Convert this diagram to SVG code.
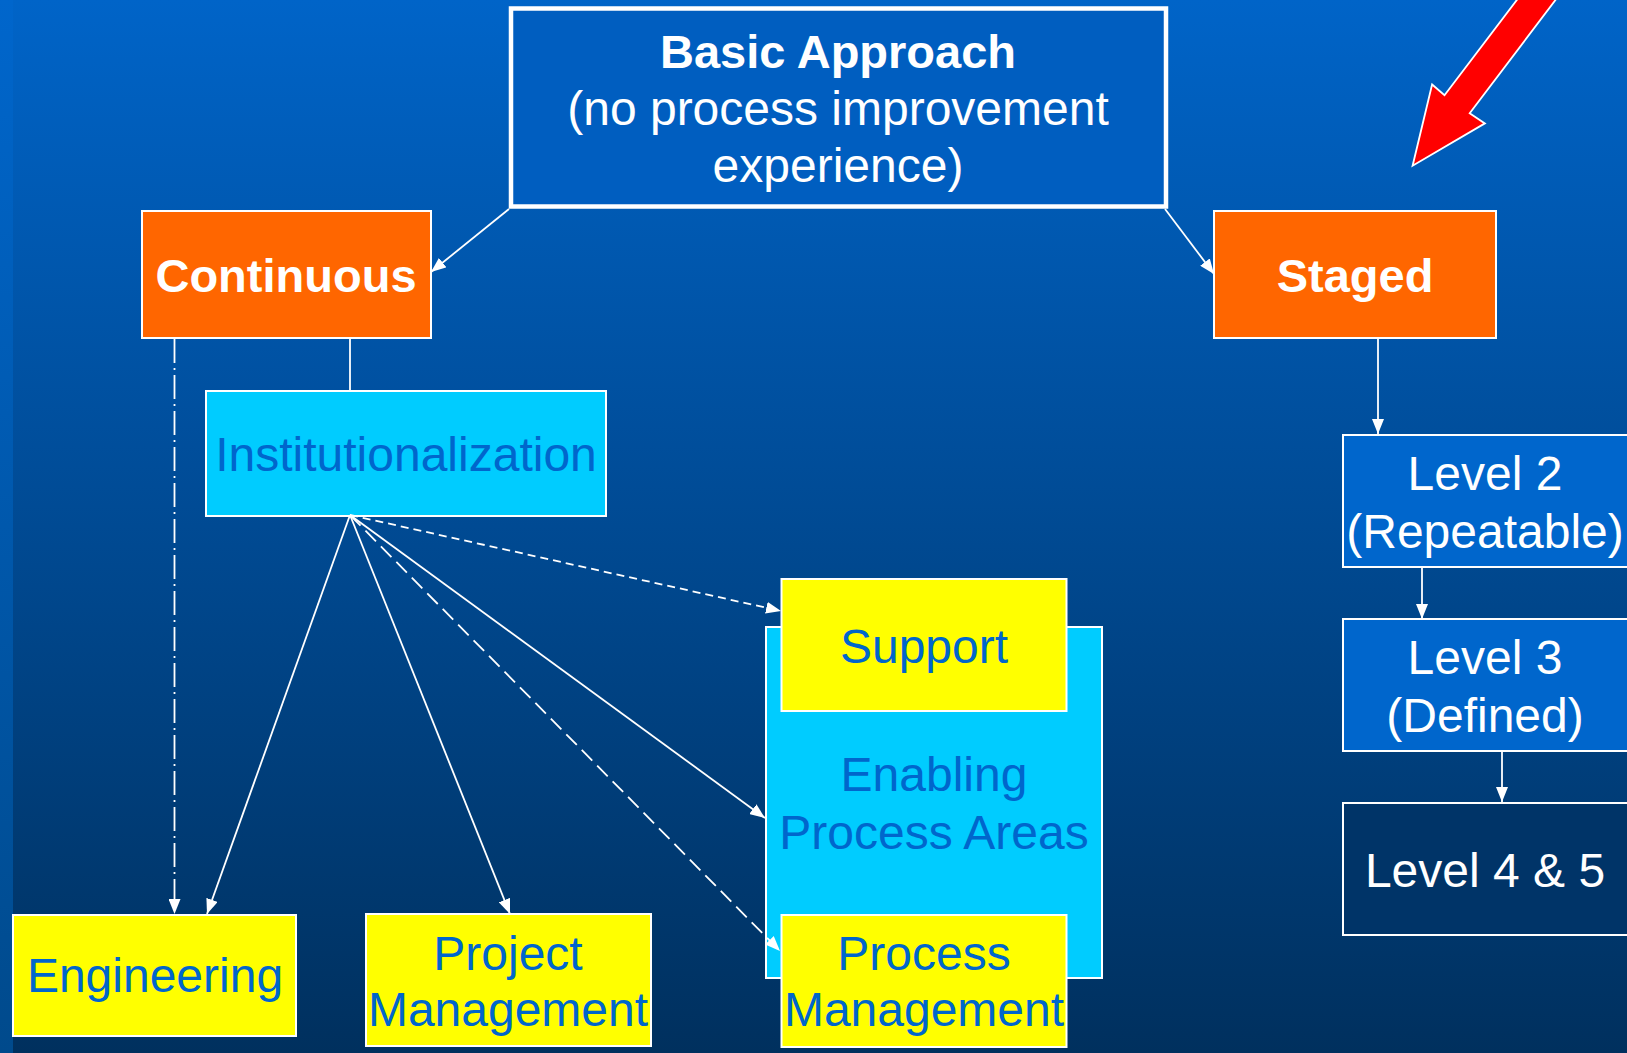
<svg xmlns="http://www.w3.org/2000/svg" width="1627" height="1053" viewBox="0 0 1627 1053">
<defs>
<linearGradient id="bg" x1="0" y1="0" x2="0" y2="1">
<stop offset="0" stop-color="#0064C8"/>
<stop offset="1" stop-color="#00305E"/>
</linearGradient>
<linearGradient id="strip" x1="0" y1="0" x2="0" y2="1">
<stop offset="0" stop-color="#0066CC"/>
<stop offset="1" stop-color="#004A8C"/>
</linearGradient>
<marker id="ah" markerUnits="userSpaceOnUse" markerWidth="16" markerHeight="12" refX="15" refY="6" orient="auto">
<path d="M0,0 L15,6 L0,12 z" fill="#FFFFFF"/>
</marker>
<style>
.t{font-family:"Liberation Sans",Arial,sans-serif;font-size:48px;text-anchor:middle}
.w{fill:#FFFFFF}
.b{fill:#0066CC}
.bold{font-weight:bold;font-size:47px}
.box{stroke:#FFFFFF;stroke-width:2}
.org{fill:#FF6600}
.yel{fill:#FFFF00}
.cyan{fill:#00CCFF}
.lvl{fill:#0066CC}
.c{stroke:#FFFFFF;stroke-width:1.8;fill:none}
</style>
</defs>
<rect x="0" y="0" width="1627" height="1053" fill="url(#bg)"/>
<rect x="0" y="0" width="13" height="1053" fill="url(#strip)"/>

<g id="basic">
<rect x="511" y="8.5" width="655" height="198" fill="#005EC0" stroke="#FFFFFF" stroke-width="4.5"/>
<text class="t w bold" x="838" y="68">Basic Approach</text>
<text class="t w" x="838" y="125">(no process improvement</text>
<text class="t w" x="838" y="182">experience)</text>
</g>
<g id="continuous">
<rect class="box org" x="142" y="211" width="289" height="127"/>
<text class="t w bold" x="286" y="292">Continuous</text>
</g>
<g id="staged">
<rect class="box org" x="1214" y="211" width="282" height="127"/>
<text class="t w bold" x="1355" y="292">Staged</text>
</g>
<g id="institutionalization">
<rect class="box cyan" x="206" y="391" width="400" height="125"/>
<text class="t b" x="406" y="471">Institutionalization</text>
</g>
<g id="enabling">
<rect class="box cyan" x="766" y="627" width="336" height="351"/>
<text class="t b" x="934" y="791">Enabling</text>
<text class="t b" x="934" y="849">Process Areas</text>
</g>
<g id="support">
<rect class="box yel" x="781.5" y="579" width="285" height="132"/>
<text class="t b" x="924" y="663">Support</text>
</g>
<g id="process-management">
<rect class="box yel" x="781.5" y="915" width="285" height="132"/>
<text class="t b" x="924" y="970">Process</text>
<text class="t b" x="924" y="1026">Management</text>
</g>
<g id="engineering">
<rect class="box yel" x="13" y="915" width="283" height="121"/>
<text class="t b" x="155" y="992">Engineering</text>
</g>
<g id="project-management">
<rect class="box yel" x="366" y="914" width="285" height="132"/>
<text class="t b" x="508" y="970">Project</text>
<text class="t b" x="508" y="1026">Management</text>
</g>
<g id="level2">
<rect class="box lvl" x="1343" y="435" width="290" height="132"/>
<text class="t w" x="1485" y="490">Level 2</text>
<text class="t w" x="1485" y="548">(Repeatable)</text>
</g>
<g id="level3">
<rect class="box lvl" x="1343" y="619" width="290" height="132"/>
<text class="t w" x="1485" y="674">Level 3</text>
<text class="t w" x="1485" y="732">(Defined)</text>
</g>
<g id="level45">
<rect class="box" fill="#003468" x="1343" y="803" width="290" height="132"/>
<text class="t w" x="1485" y="887">Level 4 &amp; 5</text>
</g>

<g id="connectors">
<path class="c" d="M509,209 L431,272" marker-end="url(#ah)"/>
<path class="c" d="M1165,209 L1214,274" marker-end="url(#ah)"/>
<path class="c" d="M350,339 L350,391"/>
<path class="c" d="M174.5,339 L174.5,914" stroke-dasharray="24 5 2 5" marker-end="url(#ah)"/>
<path class="c" d="M350,515 L207,914" marker-end="url(#ah)"/>
<path class="c" d="M350,515 L510,914" marker-end="url(#ah)"/>
<path class="c" d="M350,515 L765,818" marker-end="url(#ah)"/>
<path class="c" d="M350,515 L780,951" stroke-dasharray="15 7" marker-end="url(#ah)"/>
<path class="c" d="M350,515 L781,611" stroke-dasharray="8 5" marker-end="url(#ah)"/>
<path class="c" d="M1378,339 L1378,434" marker-end="url(#ah)"/>
<path class="c" d="M1422,567 L1422,619" marker-end="url(#ah)"/>
<path class="c" d="M1502,751 L1502,802" marker-end="url(#ah)"/>
</g>

<polygon id="red-arrow" points="1532,-20 1444.5,95.3 1432.1,84.5 1412.6,165.7 1484.9,123.4 1469.7,113.3 1570.6,-20" fill="#FF0000" stroke="#FFFFFF" stroke-width="1.8"/>
</svg>
